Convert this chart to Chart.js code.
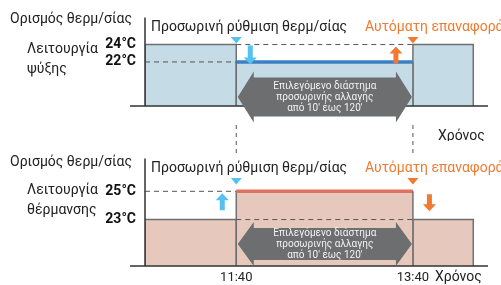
<!DOCTYPE html>
<html>
<head>
<meta charset="utf-8">
<script src="https://cdn.jsdelivr.net/npm/chart.js@4/dist/chart.umd.min.js"></script>
<style>
  body { margin: 0; background: #fff; }
  #wrap { position: relative; width: 501px; height: 285px; }
  #wrap canvas { position: absolute; left: 0; }
</style>
</head>
<body>
<div id="wrap">
  <canvas id="cool" width="501" height="141" style="top:0"></canvas>
  <canvas id="heat" width="501" height="144" style="top:141px"></canvas>
</div>
<script>
// segments: before override, temporary override, after auto restore
const segStartTimes = ['10:38', '11:40', '13:40'];
const segEndTimes = ['11:40', '13:40', '14:21'];
const coolSetpoints = [24, 22, 24];
const heatSetpoints = [23, 25, 23];
const coolTicks = [22, 24];
const heatTicks = [23, 25];
const timeTicks = ['11:40', '13:40'];

const toMin = t => { const p = t.split(':'); return +p[0] * 60 + +p[1]; };
const fmt = m => Math.floor(m / 60) + ':' + String(m % 60).padStart(2, '0');
const segStart = segStartTimes.map(toMin);
const segEnd = segEndTimes.map(toMin);

const FONT = 'Roboto';
const ORANGE = '#f07a30';
const CYAN = '#55c1ee';

function blockArrow(ctx, cx, yFrom, yTo, color) {
  const dir = yTo > yFrom ? 1 : -1, head = 7;
  ctx.fillStyle = color;
  ctx.beginPath();
  ctx.moveTo(cx - 2.5, yFrom);
  ctx.lineTo(cx + 2.5, yFrom);
  ctx.lineTo(cx + 2.5, yTo - dir * head);
  ctx.lineTo(cx + 6.5, yTo - dir * head);
  ctx.lineTo(cx, yTo);
  ctx.lineTo(cx - 6.5, yTo - dir * head);
  ctx.lineTo(cx - 2.5, yTo - dir * head);
  ctx.closePath();
  ctx.fill();
}

function marker(ctx, px, color) {
  ctx.fillStyle = color;
  ctx.beginPath();
  ctx.moveTo(px - 5.5, 37);
  ctx.lineTo(px + 5.5, 37);
  ctx.lineTo(px, 43.5);
  ctx.closePath();
  ctx.fill();
}

const decor = {
  id: 'decor',
  afterDatasetsDraw(chart, args, o) {
    const { ctx, chartArea: a, scales: { x, y } } = chart;
    const x1 = x.getPixelForValue(segStart[1]), x2 = x.getPixelForValue(segEnd[1]);
    const yh = y.getPixelForValue(Math.max(...o.sets));
    ctx.save();

    // axes
    ctx.strokeStyle = '#333';
    ctx.lineWidth = 1.5;
    ctx.beginPath();
    ctx.moveTo(a.left, a.top); ctx.lineTo(a.left, a.bottom);
    ctx.moveTo(a.left - 15, a.bottom); ctx.lineTo(a.right, a.bottom);
    ctx.stroke();

    // dashed time markers between the panels
    ctx.setLineDash([4, 4]);
    ctx.lineWidth = 1;
    ctx.strokeStyle = '#555';
    ctx.beginPath();
    [x1, x2].forEach(px => { ctx.moveTo(px, o.dashFrom); ctx.lineTo(px, o.dashTo); });
    ctx.stroke();
    ctx.setLineDash([]);

    marker(ctx, x1, CYAN);
    marker(ctx, x2, ORANGE);

    // change arrows
    if (o.cooling) {
      blockArrow(ctx, x1 + 14, yh + 1, yh + 20, CYAN);
      blockArrow(ctx, x2 - 17, yh + 19, yh + 2, ORANGE);
    } else {
      blockArrow(ctx, x1 - 14, yh + 19, yh + 2, CYAN);
      blockArrow(ctx, x2 + 16.5, yh + 3, yh + 20, ORANGE);
    }

    // grey double arrow with the interval text
    const l = x1 + 1.5, r = x2 - 1, cy = o.arrowY, bh = o.bodyH, hh = o.headH, hl = 16;
    ctx.fillStyle = '#6d6e70';
    ctx.beginPath();
    ctx.moveTo(l, cy);
    ctx.lineTo(l + hl, cy - hh);
    ctx.lineTo(l + hl, cy - bh);
    ctx.lineTo(r - hl, cy - bh);
    ctx.lineTo(r - hl, cy - hh);
    ctx.lineTo(r, cy);
    ctx.lineTo(r - hl, cy + hh);
    ctx.lineTo(r - hl, cy + bh);
    ctx.lineTo(l + hl, cy + bh);
    ctx.lineTo(l + hl, cy + hh);
    ctx.closePath();
    ctx.fill();
    ctx.fillStyle = '#f2f2f2';
    ctx.font = '10px ' + FONT;
    ctx.textAlign = 'center';
    ctx.textBaseline = 'middle';
    ['Επιλεγόμενο διάστημα', 'προσωρινής αλλαγής', 'από 10′ έως 120′'].forEach((t, i) => {
      ctx.fillText(t, (l + r) / 2, cy - 11 + i * 11);
    });

    // texts
    ctx.textAlign = 'left';
    ctx.fillStyle = '#222';
    ctx.font = '14px ' + FONT;
    ctx.fillText('Ορισμός θερμ/σίας', 10, o.titleY);
    ctx.fillText(o.mode[0], 27, 49.5);
    ctx.fillText(o.mode[1], 27, 69.5);
    ctx.fillText('Χρόνος', o.timeX, o.timeY);
    ctx.fillText('Προσωρινή ρύθμιση θερμ/σίας', 151, 27);
    ctx.fillStyle = ORANGE;
    ctx.fillText('Αυτόματη επαναφορά', 365, 27);
    ctx.restore();
  }
};

function makePanel(id, sets, ticks, yMin, yMax, fill, accent, showTime, extra) {
  const datasets = [];
  // dashed guides: new level before the change, old level during the override
  datasets.push({
    data: [{ x: segStart[0], y: sets[1] }, { x: segEnd[0], y: sets[1] }],
    borderColor: '#555', borderWidth: 1, borderDash: [5, 4], pointRadius: 0, fill: false, order: 0
  });
  datasets.push({
    data: [{ x: segStart[1], y: sets[0] }, { x: segEnd[1], y: sets[0] }],
    borderColor: '#555', borderWidth: 1, borderDash: [5, 4], pointRadius: 0, fill: false, order: 0
  });
  sets.forEach((v, i) => {
    datasets.push({
      data: [{ x: segStart[i], y: yMin }, { x: segStart[i], y: v }, { x: segEnd[i], y: v }, { x: segEnd[i], y: yMin }],
      borderColor: '#707070', borderWidth: 1.5, backgroundColor: fill, fill: 'start', pointRadius: 0,
      order: i === 1 ? 1 : 2,
      segment: i === 1 ? {
        borderColor: c => c.p0DataIndex === 1 ? accent : undefined,
        borderWidth: c => c.p0DataIndex === 1 ? 3.5 : undefined
      } : undefined
    });
  });

  return new Chart(document.getElementById(id), {
    type: 'line',
    data: { datasets },
    options: {
      responsive: false,
      animation: false,
      events: [],
      layout: { padding: { left: 0, right: 13, top: 13, bottom: showTime ? 0 : 16 } },
      plugins: { legend: { display: false }, tooltip: { enabled: false }, decor: Object.assign({ sets }, extra) },
      scales: {
        x: {
          type: 'linear', min: 638, max: 871, display: showTime,
          afterBuildTicks: s => { s.ticks = timeTicks.map(t => ({ value: toMin(t) })); },
          afterFit: s => { s.height = 19; },
          border: { display: false },
          grid: { display: false, drawTicks: false },
          ticks: { padding: 4, autoSkip: false, maxRotation: 0, color: '#222', font: { family: FONT, size: 13 }, callback: v => fmt(v) }
        },
        y: {
          min: yMin, max: yMax,
          afterBuildTicks: s => { s.ticks = ticks.map(v => ({ value: v })); },
          afterFit: s => { s.width = 145; },
          border: { display: false },
          grid: { display: false, drawTicks: false },
          ticks: { padding: 9, color: '#111', font: { family: FONT, size: 14, weight: 'bold' }, callback: v => v + '°C' }
        }
      }
    },
    plugins: [decor]
  });
}

makePanel('cool', coolSetpoints, coolTicks, 16.94, 27.12, '#c5dbe5', '#3b7fc4', false, {
  cooling: true, mode: ['Λειτουργία', 'ψύξης'], titleY: 19.5, timeX: 438, timeY: 136,
  dashFrom: 125, dashTo: 141, arrowY: 97, bodyH: 19.5, headH: 25.5
});
makePanel('heat', heatSetpoints, heatTicks, 19.71, 27.33, '#e6c9bc', '#e0705f', true, {
  cooling: false, mode: ['Λειτουργία', 'θέρμανσης'], titleY: 21.5, timeX: 435, timeY: 136.5,
  dashFrom: 0, dashTo: 13, arrowY: 103, bodyH: 16, headH: 22
});
</script>
</body>
</html>
